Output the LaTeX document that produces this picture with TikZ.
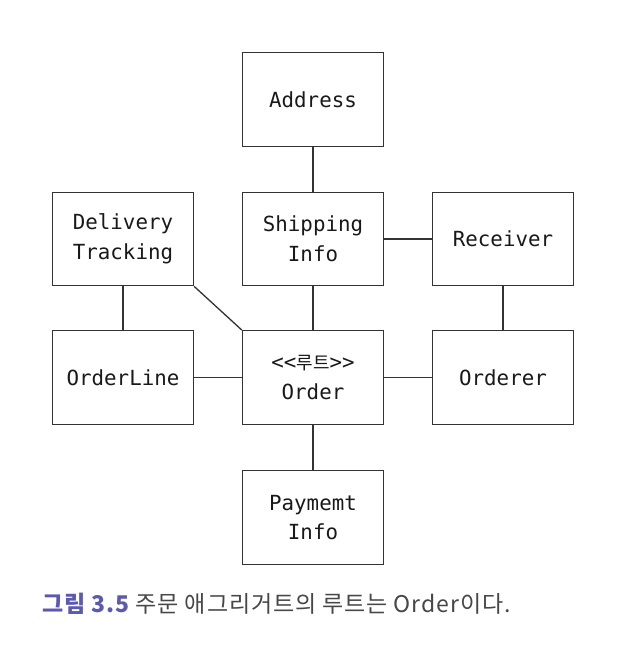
\documentclass[tikz,border=0pt]{standalone}
\usepackage{fontspec}
\newfontfamily\boxfont{DejaVu Sans Mono}
\newfontfamily\kr{Noto Sans CJK KR}
\newfontfamily\krcap[LetterSpace=4]{Noto Sans CJK KR}
\definecolor{figblue}{HTML}{5A5AB0}
\definecolor{capgray}{HTML}{474747}
\definecolor{linegray}{HTML}{333333}
\tikzset{
  ent/.style={draw=linegray, line width=1.3pt, fill=white, minimum width=141pt, minimum height=93.5pt,
    inner sep=0pt, align=center, font=\boxfont\fontsize{20.8}{29.5}\selectfont, text=black!90},
  link/.style={draw=linegray, line width=1.3pt}
}
\begin{document}
\begin{tikzpicture}[x=1pt,y=1pt]
\useasboundingbox (0,0) rectangle (634,652);
\fill[white] (0,0) rectangle (634,652);
\node[ent] (address)  at (313,552.5) {Address};
\node[ent] (shipping) at (313,413) {Shipping\\Info};
\node[ent] (receiver) at (503,413) {Receiver};
\node[ent] (delivery) at (123,413) {Delivery\\Tracking};
\node[ent] (orderline) at (123,274.5) {OrderLine};
\node[ent] (order)    at (313,274.5) {<\kern0pt<{\kr\fontsize{18}{29.5}\selectfont 루트}>\kern0pt>\\Order};
\node[ent] (orderer)  at (503,274.5) {Orderer};
\node[ent] (payment)  at (313,134.5) {Paymemt\\Info};
\draw[link] (address) -- (shipping);
\draw[link] (shipping) -- (receiver);
\draw[link] (shipping) -- (order);
\draw[link] (delivery) -- (orderline);
\draw[link] (delivery.south east) -- (order.north west);
\draw[link] (orderline) -- (order);
\draw[link] (order) -- (orderer);
\draw[link] (receiver) -- (orderer);
\draw[link] (order) -- (payment);
\node[anchor=base west, inner sep=0pt, font=\krcap\fontsize{23}{26}\selectfont, text=capgray] (caption) at (42,39)
  {{\bfseries\color{figblue}그림 3.5} 주문 애그리거트의 루트는 Order이다.};
\end{tikzpicture}
\end{document}
